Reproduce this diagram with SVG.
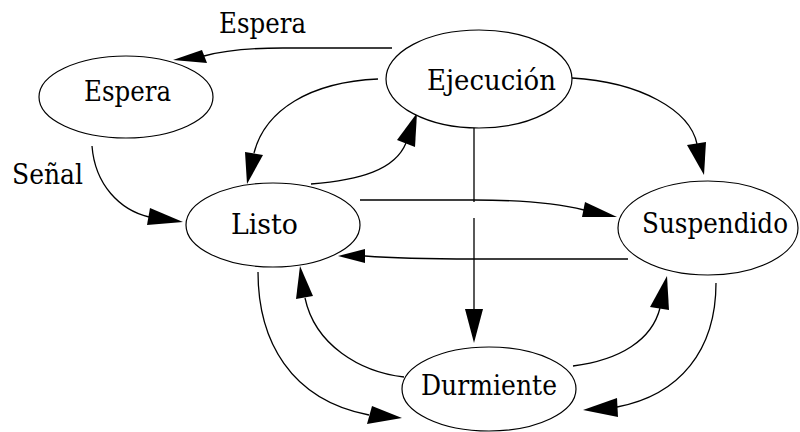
<svg xmlns="http://www.w3.org/2000/svg" width="800" height="432" viewBox="0 0 800 432">
<defs>
<style>
.node ellipse{fill:#fff;stroke:#000;stroke-width:1.2}
text{font-family:'DejaVu Serif','Liberation Serif',serif;font-size:27px;fill:#000}
.edges path{fill:none;stroke:#000;stroke-width:1.3}
.edges polygon{fill:#000;stroke:none}
</style>
</defs>
<rect width="800" height="432" fill="#fff"/>
<g class="edges" id="connectors">
<path d="M 392 48 L 283 48 C 245 48 222 51 204 56"/>
<polygon points="173,60 202,50 207,63"/>
<path d="M 378 79 C 310 82 265 110 254 153"/>
<polygon points="247,184 245,152 263,155"/>
<path d="M 311 184 C 360 180 395 170 406 143"/>
<polygon points="417,113 397,140 415,147"/>
<path d="M 474 120 V 202 M 474 218 V 309"/>
<polygon points="474,343 465,309 483,309"/>
<path d="M 92 146 C 95 185 120 210 149 217"/>
<polygon points="183,222 150,208 147,225"/>
<path d="M 360 200 L 474 200 C 530 200 560 204 584 210"/>
<polygon points="617,217 585,202 582,217"/>
<path d="M 628 259 L 474 259 C 430 259 390 258 365 256"/>
<polygon points="338,256 365,249 365,263"/>
<path d="M 258 272 C 258 340 290 400 369 415"/>
<polygon points="402,418 372,406 367,424"/>
<path d="M 404 377 C 360 372 315 345 305 298"/>
<polygon points="300,266 296,299 313,296"/>
<path d="M 573 366 C 620 360 652 340 660 308"/>
<polygon points="667,276 650,307 669,310"/>
<path d="M 716 283 C 716 350 680 395 617 407"/>
<polygon points="583,410 617,398 618,417"/>
<path d="M 572 78 C 640 82 690 110 697 144"/>
<polygon points="704,175 687,145 706,142"/>
<text x="219" y="33" textLength="87" lengthAdjust="spacingAndGlyphs">Espera</text>
<text x="12" y="184" textLength="71" lengthAdjust="spacingAndGlyphs">Señal</text>
</g>
<g class="node" id="espera">
<ellipse cx="126" cy="97" rx="87" ry="41"/>
<text x="84" y="101" textLength="87" lengthAdjust="spacingAndGlyphs">Espera</text>
</g>
<g class="node" id="ejecucion">
<ellipse cx="479" cy="79" rx="93" ry="49"/>
<text x="427" y="90" textLength="129" lengthAdjust="spacingAndGlyphs">Ejecución</text>
</g>
<g class="node" id="listo">
<ellipse cx="273" cy="225" rx="87" ry="42"/>
<text x="231" y="234" textLength="67" lengthAdjust="spacingAndGlyphs">Listo</text>
</g>
<g class="node" id="suspendido">
<ellipse cx="708" cy="228" rx="90" ry="47"/>
<text x="642" y="233" textLength="146" lengthAdjust="spacingAndGlyphs">Suspendido</text>
</g>
<g class="node" id="durmiente">
<ellipse cx="489" cy="389" rx="87" ry="42"/>
<text x="421" y="395" textLength="136" lengthAdjust="spacingAndGlyphs">Durmiente</text>
</g>
</svg>
